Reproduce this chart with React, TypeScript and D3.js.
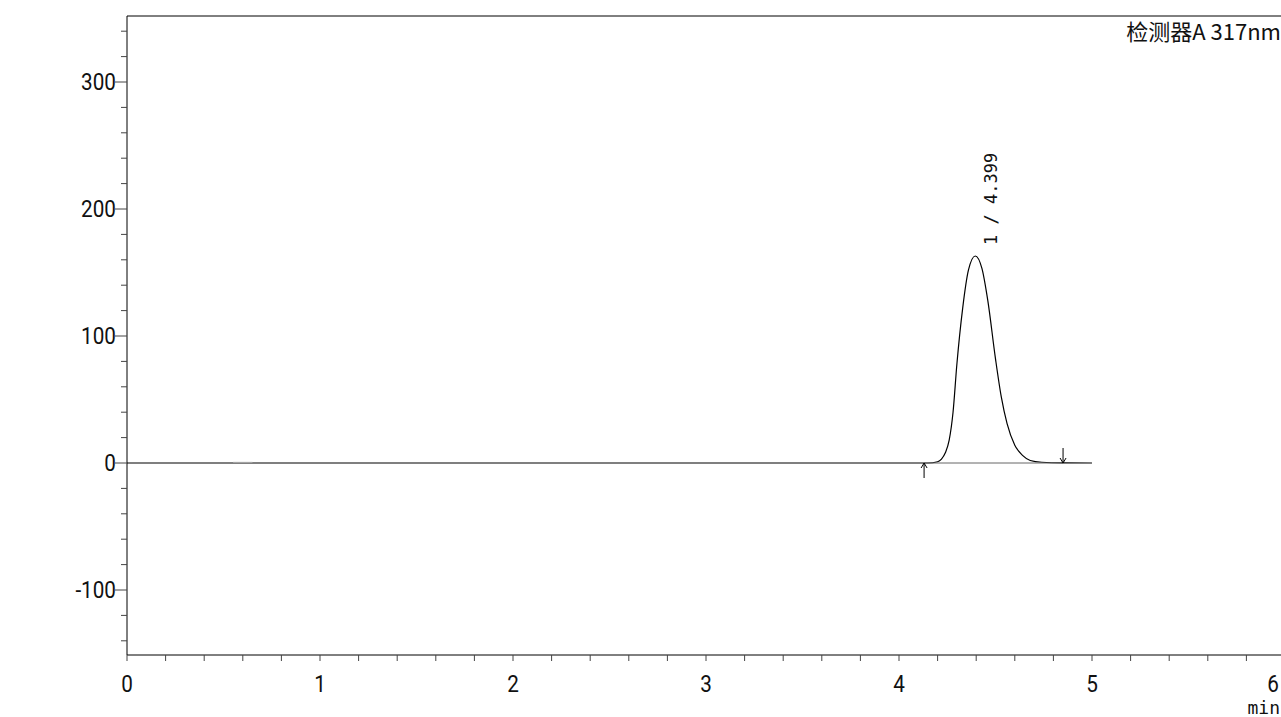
import React from "react";
import * as d3 from "d3";

const peakTimes: number[] = [0, 4.15, 4.2, 4.22, 4.24, 4.26, 4.28, 4.3, 4.33, 4.36, 4.395, 4.43, 4.46, 4.5, 4.53, 4.56, 4.6, 4.64, 4.68, 4.74, 4.85, 5.0];
const signal: number[] = [0, 0, 1, 3, 8, 18, 40, 78, 122, 152, 163, 153, 128, 82, 52, 31, 14, 6, 2, 0.6, 0.1, 0];
const xTicks: number[] = [0, 1, 2, 3, 4, 5, 6];
const yTicks: number[] = [-100, 0, 100, 200, 300];
const peakLabel = "1 / 4.399";
const baselineMarks: number[] = [4.13, 4.85];

const W = 1281, H = 717;
const left = 127, top = 16, bottom = 655;
const font = "'DejaVu Sans Mono', monospace";
const tickFont = "Roboto, sans-serif";

const App = () => {
  const x = d3.scaleLinear().domain([0, 6]).range([left, left + 6 * 193]);
  const y = d3.scaleLinear().domain([0, 300]).range([463, 82]);
  const line = d3.line<number>().x((_, i) => x(peakTimes[i])).y((d) => y(d)).curve(d3.curveMonotoneX);
  const minorX = d3.range(0, 6.01, 0.2);
  const minorY = d3.range(-140, 341, 20);
  const apex = peakTimes[signal.indexOf(d3.max(signal)!)];
  return (
    <svg width={W} height={H} style={{ position: "absolute", left: 0, top: 0, background: "#fff" }}>
      <line x1={left} x2={W} y1={top} y2={top} stroke="#000" />
      <line x1={left} x2={left} y1={top} y2={bottom} stroke="#000" />
      <line x1={left} x2={W} y1={bottom} y2={bottom} stroke="#000" />
      {minorY.map((v) => (
        <line key={"my" + v} x1={left - (v % 100 === 0 ? 12 : 6)} x2={left} y1={y(v)} y2={y(v)} stroke="#444" />
      ))}
      {minorX.map((v) => (
        <line key={"mx" + v} x1={x(v)} x2={x(v)} y1={bottom} y2={bottom + 6} stroke="#444" />
      ))}
      {yTicks.map((v) => (
        <g key={"yt" + v} transform={`translate(${left - 11},${y(v) + 8}) scale(0.9,1)`}>
          <text textAnchor="end" fontSize={23} fontFamily={tickFont} fill="#111">{v}</text>
        </g>
      ))}
      {xTicks.map((v) => (
        <g key={"xt" + v} transform={`translate(${Math.min(x(v), 1273)},692) scale(0.9,1)`}>
          <text textAnchor="middle" fontSize={23} fontFamily={tickFont} fill="#111">{v}</text>
        </g>
      ))}
      <text x={1280} y={714} textAnchor="end" fontSize={18} fontFamily={font} fill="#111">min</text>
      <text x={1281} y={40} textAnchor="end" fontSize={22} fontFamily="'Noto Sans CJK SC', sans-serif" fill="#111">检测器A 317nm</text>
      <path d={line(signal) ?? ""} fill="none" stroke="#000" strokeWidth={1.2} />
      <line x1={x(baselineMarks[0])} x2={x(baselineMarks[1])} y1={y(0)} y2={y(0)} stroke="#666" />
      <line x1={x(0.55)} x2={x(0.65)} y1={y(0.5)} y2={y(0.5)} stroke="#aaa" />
      <path d={`M${x(baselineMarks[0])},${y(0) + 15}V${y(0)}M${x(baselineMarks[0]) - 3},${y(0) + 5}L${x(baselineMarks[0])},${y(0)}L${x(baselineMarks[0]) + 3},${y(0) + 5}`} stroke="#000" fill="none" />
      <path d={`M${x(baselineMarks[1])},${y(0) - 15}V${y(0)}M${x(baselineMarks[1]) - 3},${y(0) - 5}L${x(baselineMarks[1])},${y(0)}L${x(baselineMarks[1]) + 3},${y(0) - 5}`} stroke="#000" fill="none" />
      <text transform={`translate(${x(apex) + 22},${245}) rotate(-90)`} fontSize={17} fontFamily={font} fill="#111">{peakLabel}</text>
    </svg>
  );
};

export default App;
